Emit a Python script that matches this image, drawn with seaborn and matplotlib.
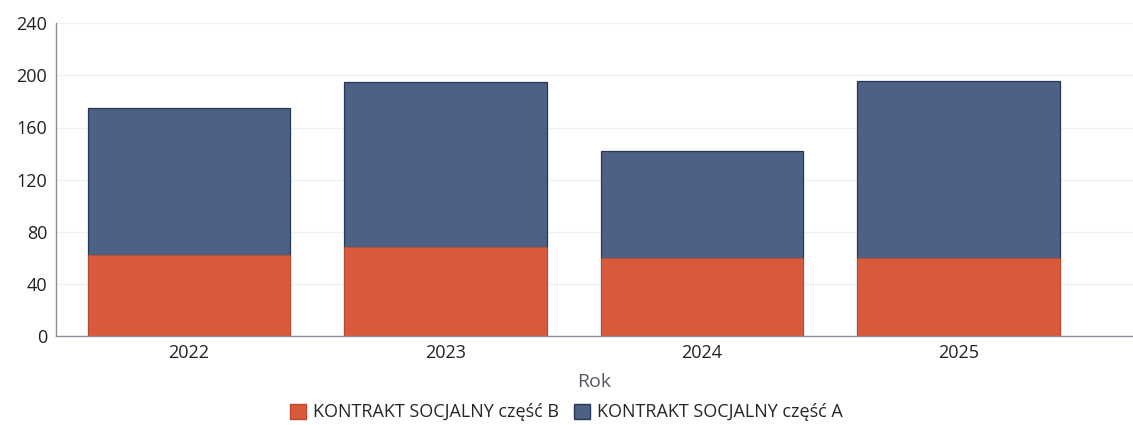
import numpy as np
import pandas as pd
import seaborn as sns
import matplotlib.pyplot as plt
from matplotlib.patches import Patch

# data
years = ["2022", "2023", "2024", "2025"]
czesc_b = [62, 68, 60, 60]
czesc_a = [113, 127, 82, 136]

df = pd.DataFrame({"Rok": years, "B": czesc_b, "A": czesc_a})
df["total"] = df["A"] + df["B"]

sns.set_style("white")
plt.rcParams["font.family"] = ["Open Sans", "DejaVu Sans"]

red = "#d95a3b"
blue = "#4d6185"

fig = plt.figure(figsize=(11.33, 4.25), dpi=100)
ax = fig.add_axes([0.049, 0.21, 0.951, 0.735])

# stacked: total first (A colour), then B drawn over it
sns.barplot(data=df, x="Rok", y="total", color=blue, width=0.79,
            edgecolor="#27375a", linewidth=0.9, saturation=1, ax=ax)
sns.barplot(data=df, x="Rok", y="B", color=red, width=0.79,
            edgecolor="#c04a2e", linewidth=0.6, saturation=1, ax=ax)

ax.set_ylim(0, 240)
ax.set_yticks(range(0, 241, 40))
ax.set_xlim(-0.52, 3.68)
ax.yaxis.grid(True, color="#eef2f7", linewidth=1)
ax.set_axisbelow(True)
ax.tick_params(axis="both", length=0, labelsize=13, colors="#222222", pad=6)
ax.set_xlabel("Rok", fontsize=14, color="#555a66", labelpad=8)
ax.set_ylabel("")

for s in ["top", "right"]:
    ax.spines[s].set_visible(False)
for s in ["left", "bottom"]:
    ax.spines[s].set_color("#8a8f99")
    ax.spines[s].set_linewidth(1)

handles = [Patch(facecolor=red, edgecolor="#c04a2e", label="KONTRAKT SOCJALNY część B"),
           Patch(facecolor=blue, edgecolor="#27375a", label="KONTRAKT SOCJALNY część A")]
fig.legend(handles=handles, loc="center", bbox_to_anchor=(0.5, 0.03), ncol=2,
           frameon=False, fontsize=13, handlelength=0.9, handleheight=0.9,
           handletextpad=0.4, columnspacing=0.8)

fig.savefig("out.png", dpi=100)
